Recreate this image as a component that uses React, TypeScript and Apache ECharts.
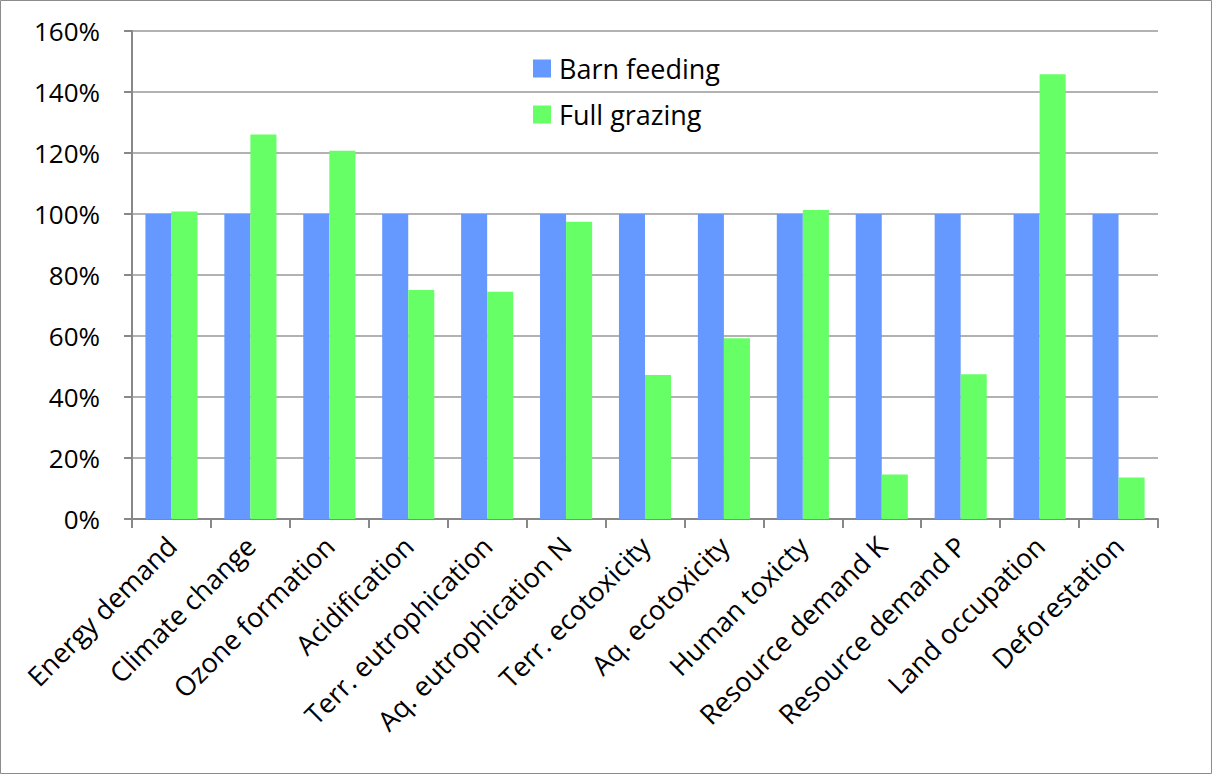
import React, { useEffect, useRef } from "react";
import * as echarts from "echarts";

const categories = [
  "Energy demand",
  "Climate change",
  "Ozone formation",
  "Acidification",
  "Terr. eutrophication",
  "Aq. eutrophication N",
  "Terr. ecotoxicity",
  "Aq. ecotoxicity",
  "Human toxicty",
  "Resource demand K",
  "Resource demand P",
  "Land occupation",
  "Deforestation",
];
const barnFeeding = [100, 100, 100, 100, 100, 100, 100, 100, 100, 100, 100, 100, 100];
const fullGrazing = [100.8, 126.1, 120.7, 75.1, 74.5, 97.5, 47.2, 59.3, 101.3, 14.6, 47.5, 145.8, 13.6];
const seriesNames = ["Barn feeding", "Full grazing"];

const FONT = "'Open Sans', 'Liberation Sans', sans-serif";

export default function App() {
  const ref = useRef<HTMLDivElement>(null);
  useEffect(() => {
    if (!ref.current) return;
    const chart = echarts.init(ref.current, undefined, { renderer: "svg" });
    chart.setOption({
      animation: false,
      backgroundColor: "#ffffff",
      textStyle: { fontFamily: FONT },
      graphic: [
        {
          type: "rect",
          shape: { x: 0.5, y: 0.5, width: 1211, height: 773 },
          style: { fill: "none", stroke: "#8c8c8c", lineWidth: 1 },
          silent: true,
        },
      ],
      legend: {
        orient: "vertical",
        left: 528,
        top: 50,
        itemGap: 19,
        itemWidth: 18,
        itemHeight: 18,
        icon: "rect",
        textStyle: { fontSize: 27, color: "#000", fontFamily: FONT, padding: [0, 0, 0, 3] },
        data: seriesNames,
      },
      grid: { left: 132, right: 55, top: 31, bottom: 256, containLabel: false },
      xAxis: {
        type: "category",
        data: categories,
        axisLine: { lineStyle: { color: "#888", width: 2 } },
        axisTick: { show: true, length: 9, alignWithLabel: false, lineStyle: { color: "#888", width: 2 } },
        axisLabel: { rotate: 45, fontSize: 27, color: "#000", margin: 22, interval: 0, fontFamily: FONT },
      },
      yAxis: {
        type: "value",
        min: 0,
        max: 160,
        interval: 20,
        axisLine: { show: true, lineStyle: { color: "#888", width: 2 } },
        axisTick: { show: true, length: 8, lineStyle: { color: "#888", width: 2 } },
        splitLine: { lineStyle: { color: "#999", width: 1.5 } },
        axisLabel: {
          formatter: "{value}%",
          fontSize: 26,
          color: "#000",
          margin: 32,
          fontFamily: FONT,
        },
      },
      series: [
        {
          name: seriesNames[0],
          type: "bar",
          data: barnFeeding,
          barGap: "0%",
          barCategoryGap: "34%",
          itemStyle: { color: "#6699ff" },
        },
        {
          name: seriesNames[1],
          type: "bar",
          data: fullGrazing,
          barGap: "0%",
          barCategoryGap: "34%",
          itemStyle: { color: "#66ff66" },
        },
      ],
    });
    return () => chart.dispose();
  }, []);
  return <div ref={ref} style={{ width: 1213, height: 775, position: "absolute", left: 0, top: 0 }} />;
}
